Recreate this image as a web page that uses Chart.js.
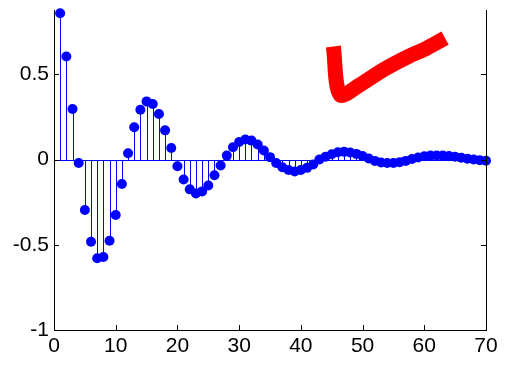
<!DOCTYPE html>
<html>
<head>
<meta charset="utf-8">
<script src="https://cdn.jsdelivr.net/npm/chart.js@4/dist/chart.umd.min.js"></script>
<style>
  html, body { margin: 0; padding: 0; background: #fff; }
  #wrap { width: 508px; height: 369px; }
</style>
</head>
<body>
<div id="wrap"><canvas id="stemChart" width="508" height="369"></canvas></div>
<script>
// sample index n and response value
const sampleIdx = [
  1, 2, 3, 4, 5, 6, 7, 8, 9, 10,
  11, 12, 13, 14, 15, 16, 17, 18, 19, 20,
  21, 22, 23, 24, 25, 26, 27, 28, 29, 30,
  31, 32, 33, 34, 35, 36, 37, 38, 39, 40,
  41, 42, 43, 44, 45, 46, 47, 48, 49, 50,
  51, 52, 53, 54, 55, 56, 57, 58, 59, 60,
  61, 62, 63, 64, 65, 66, 67, 68, 69, 70
];
const response = [
  0.858, 0.604, 0.296, -0.02, -0.296, -0.482, -0.579, -0.572, -0.476, -0.325,
  -0.144, 0.037, 0.189, 0.292, 0.341, 0.326, 0.267, 0.171, 0.068, -0.039,
  -0.117, -0.175, -0.199, -0.187, -0.152, -0.092, -0.035, 0.023, 0.072, 0.103,
  0.117, 0.111, 0.088, 0.053, 0.014, -0.02, -0.045, -0.062, -0.07, -0.062,
  -0.049, -0.029, 0.0, 0.016, 0.031, 0.043, 0.045, 0.041, 0.033, 0.02,
  0.006, -0.008, -0.018, -0.02, -0.02, -0.016, -0.008, 0.003, 0.012, 0.019,
  0.023, 0.024, 0.023, 0.02, 0.016, 0.01, 0.005, 0.0, -0.004, -0.007
];

// the red check mark, in data units
const checkX = [45.27, 46.35, 49.6, 53.37, 57.42, 60.4, 63.37];
const checkY = [0.663, 0.380, 0.439, 0.526, 0.604, 0.653, 0.712];

const xTicks = [0, 10, 20, 30, 40, 50, 60, 70];
const yTicks = [-1, -0.5, 0, 0.5];
const yMin = -1, yMax = 0.877;

const BLUE = '#0000ff';
const FONT = { family: '"Liberation Sans", Arial, Helvetica, sans-serif', size: 21 };

const stemPlugin = {
  id: 'stems',
  beforeDatasetsDraw(chart) {
    const { ctx, scales: { x, y } } = chart;
    const y0 = Math.round(y.getPixelForValue(0)) + 0.5;
    ctx.save();
    ctx.strokeStyle = BLUE;
    ctx.lineWidth = 1;
    ctx.beginPath();
    ctx.moveTo(x.getPixelForValue(0), y0);
    ctx.lineTo(x.getPixelForValue(70), y0);
    sampleIdx.forEach((n, i) => {
      const px = Math.round(x.getPixelForValue(n)) + 0.5;
      ctx.moveTo(px, y0);
      ctx.lineTo(px, y.getPixelForValue(response[i]));
    });
    ctx.stroke();
    ctx.restore();
  },
  afterDraw(chart) {
    const { ctx, chartArea: a, scales: { x, y } } = chart;
    ctx.save();
    ctx.strokeStyle = '#000';
    ctx.lineWidth = 1;
    ctx.beginPath();
    // right axis line (box), no top edge
    ctx.moveTo(a.right + 0.5, a.top);
    ctx.lineTo(a.right + 0.5, a.bottom);
    // inward ticks
    xTicks.forEach(v => {
      const px = Math.round(x.getPixelForValue(v)) + 0.5;
      ctx.moveTo(px, a.bottom);
      ctx.lineTo(px, a.bottom - 5);
    });
    yTicks.forEach(v => {
      const py = Math.round(y.getPixelForValue(v)) + 0.5;
      ctx.moveTo(a.left, py);
      ctx.lineTo(a.left + 5, py);
      ctx.moveTo(a.right, py);
      ctx.lineTo(a.right - 5, py);
    });
    ctx.stroke();
    ctx.restore();
  }
};

new Chart(document.getElementById('stemChart'), {
  type: 'scatter',
  data: {
    datasets: [
      {
        label: 'response',
        data: sampleIdx.map((n, i) => ({ x: n, y: response[i] })),
        backgroundColor: BLUE,
        borderWidth: 0,
        pointRadius: 5,
        pointHoverRadius: 5,
        clip: false
      },
      {
        label: 'check',
        type: 'line',
        data: checkX.map((v, i) => ({ x: v, y: checkY[i] })),
        borderColor: '#ff0000',
        borderWidth: 15,
        borderCapStyle: 'butt',
        borderJoinStyle: 'round',
        tension: 0.3,
        pointRadius: 0,
        fill: false
      }
    ]
  },
  options: {
    responsive: false,
    animation: false,
    events: [],
    layout: { padding: { top: 10, right: 22, left: 0, bottom: 0 } },
    plugins: { legend: { display: false }, tooltip: { enabled: false } },
    scales: {
      x: {
        type: 'linear',
        min: 0,
        max: 70,
        afterBuildTicks: s => { s.ticks = xTicks.map(v => ({ value: v })); },
        afterFit: s => { s.height = 39; s.paddingLeft = 0; s.paddingRight = 0; },
        grid: { drawOnChartArea: false, drawTicks: false },
        border: { display: true, color: '#000', width: 1 },
        ticks: { color: '#000', font: FONT, padding: 4, maxRotation: 0, callback: v => String(v) }
      },
      y: {
        type: 'linear',
        min: yMin,
        max: yMax,
        afterBuildTicks: s => { s.ticks = yTicks.map(v => ({ value: v })); },
        afterFit: s => { s.width = 54; s.paddingTop = 0; s.paddingBottom = 0; },
        grid: { drawOnChartArea: false, drawTicks: false },
        border: { display: true, color: '#000', width: 1 },
        ticks: { color: '#000', font: FONT, padding: 5, callback: v => String(v) }
      }
    }
  },
  plugins: [stemPlugin]
});
</script>
</body>
</html>
